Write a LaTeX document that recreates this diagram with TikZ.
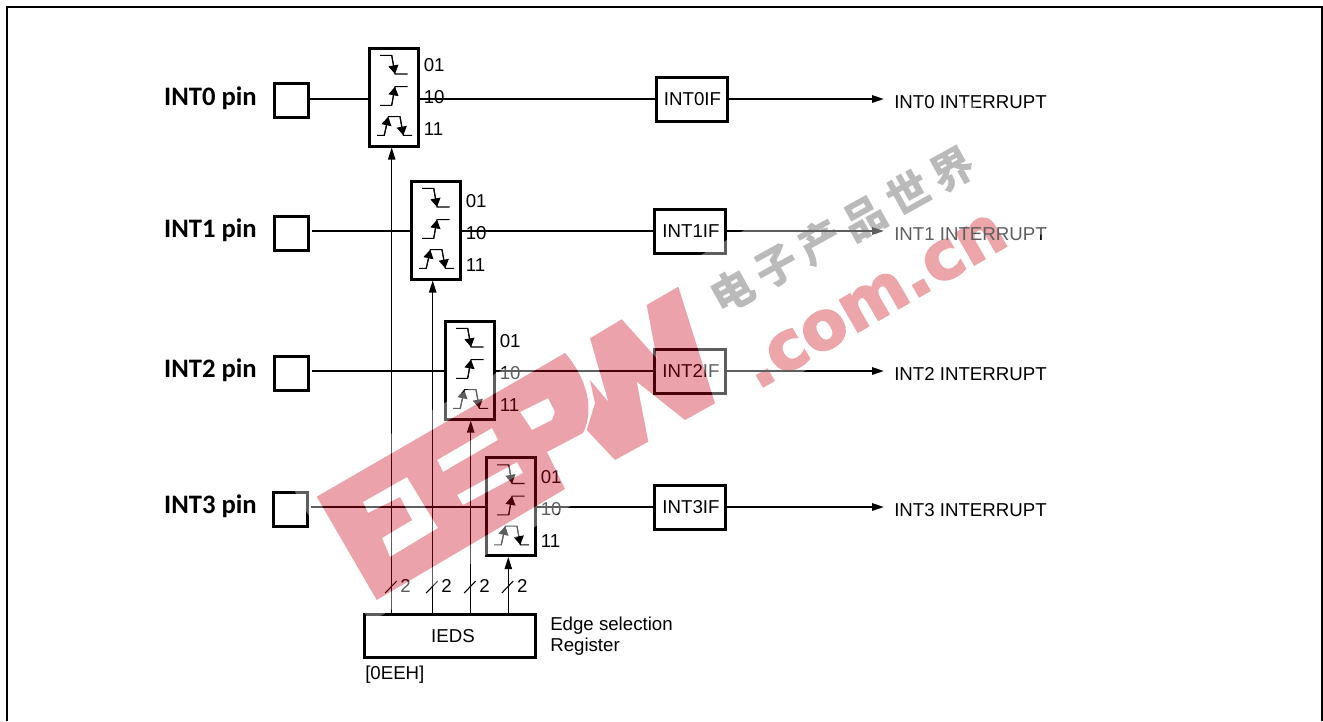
\documentclass[tikz,border=0pt]{standalone}
\usepackage{fontspec}
\setmainfont{Liberation Sans}
\newfontfamily\pinfont{Carlito}
\newfontfamily\markfont[BoldFont={DejaVu Sans Bold},BoldFeatures={FakeBold=3}]{DejaVu Sans}
\newfontfamily\cjk[LetterSpace=18]{Noto Sans CJK SC}
\usepackage{xcolor}
\usetikzlibrary{arrows.meta,positioning,calc}
\definecolor{markred}{RGB}{203,0,22}
\definecolor{markpale}{RGB}{225,114,120}
\definecolor{markgray}{RGB}{147,147,147}

% outline of the four big watermark letters
\newcommand{\eepwshape}{
    (316.7,496.7) -- (565,353) .. controls (582,372) and (597,405) .. (583,433)
    -- (547,452) -- (565,489) -- (376.7,600) -- cycle
    (520,412) -- (548,398) -- (555,412) -- (552,420) -- (532,430) -- cycle
    (437,460) -- (492,428) -- (498,440) -- (443,472) -- cycle
    (457,495) -- (517,462) -- (523,473) -- (463,505) -- cycle
    (363,502) -- (407,477) -- (438,528) -- (390,557) -- (382,538) -- (412,520) -- (400,497) -- (368,513) -- cycle
    (590,338.3) -- (621.7,319.3) -- (656.7,358.3) -- (646.7,305) -- (678.3,286.7) -- (715,403.3) -- (685,420)
    -- (636.7,381.7) -- (648.3,441.7) -- (615,460) -- (586.7,430) -- (595,403.3) -- (590,380) -- (608.3,401.7) -- cycle
}

\tikzset{
    edgeicon/.pic={
        \draw[iconline] (-14,-41.7) -- (-2.3,-41.7) -- (1,-23) -- (13.7,-23);
        \draw[iconline, icontip] (-2.3,-41.7) -- (1,-23);
        \draw[iconline] (-14,8.3) -- (-2.3,8.3) -- (1,-10.3) -- (13.7,-10.3);
        \draw[iconline, icontip] (-2.3,8.3) -- (1,-10.3);
        \draw[iconline] (-17,38.3) -- (-9.7,38.3) -- (-5.7,19.7) -- (6,19.7) -- (9.3,38.3) -- (18,38.3);
        \draw[iconline, icontip] (-9.7,38.3) -- (-5.7,19.7);
        \draw[iconline, icontip] (6,19.7) -- (9.3,38.3);
    }
}

\begin{document}
\begin{tikzpicture}[
    x=0.75pt, y=-0.75pt,
    every node/.style={font=\fontsize{14}{16}\selectfont, inner sep=0pt},
    pinbox/.style={draw, line width=2.25pt, minimum width=25.5pt, minimum height=25.5pt},
    selbox/.style={draw, line width=2.25pt, minimum width=36.75pt, minimum height=73.5pt},
    flagbox/.style={draw, line width=2.25pt, minimum width=53.25pt, minimum height=33pt},
    regbox/.style={draw, line width=2.25pt, minimum width=128.25pt, minimum height=32.25pt},
    pinlab/.style={font=\fontsize{20}{22}\selectfont\pinfont\bfseries, anchor=east},
    wire/.style={line width=1.5pt},
    thinwire/.style={line width=0.8pt},
    iconline/.style={line width=0.8pt},
    icontip/.style={-{Triangle[length=6.5pt,width=7.5pt]}},
    bigtip/.style={-{Triangle[length=9pt,width=5.5pt]}},
]
    \useasboundingbox (0,0) rectangle (1323,721);

    % Watermark texts, under the drawing
    \node[rotate=30, text=markpale, font=\fontsize{50}{52}\selectfont\markfont\bfseries] (markdot) at (875,301) {.com.cn};
    \node[rotate=29, text=markgray, font=\fontsize{32}{36}\selectfont\cjk\bfseries] (markcjk) at (842,230) {电子产品世界};

    % Frame, open at the bottom
    \draw[line width=1.5pt] (7,721) -- (7,7) -- (1322,7) -- (1322,721);

    % Register
    \node[regbox] (reg) at (450,636) {\hspace*{4.5pt}\raisebox{-0.75pt}{IEDS}};
    \node[anchor=west] (regname) at (550,625.5) {Edge selection};
    \node[anchor=west] (regname2) at (550,646.5) {Register};
    \node[anchor=west] (regaddr) at (365,674.5) {[0EEH]};

    % One row per pin: n / wire y / pin x / pin y / selector x / selector y / label y / flag x / text y / tap x / gap
    \foreach \n/\wy/\px/\py/\sx/\sy/\ly/\fx/\ty/\tx/\gap in {
        0/99/291.5/100.5/394/97/97/691.5/102/391.7/0pt,
        1/231/291/233/436/230/233/690/234/432.7/2pt,
        2/371/291/373/470/370/373/690/374/470.7/2pt,
        3/507/290/509/511/506.5/509/690/510/508.3/2pt%
    } {
        \node[pinlab] (name\n) at (257,\py-2.5) {INT\n\ pin};
        \node[pinbox] (pin\n) at (\px,\py) {};
        \node[selbox] (sel\n) at (\sx,\sy) {};
        \pic at (sel\n.center) {edgeicon};
        \node[flagbox] (flag\n) at (\fx,\wy) {\hspace*{1.5pt}INT\n IF};
        \node[anchor=west] (out\n) at (894,\ty) {INT\n\ INTERRUPT};

        % selector codes
        \node[anchor=west] (lo\n) at ($(sel\n.east |- 0,\ly)+(3.5,-32)$) {01};
        \node[anchor=west] (mid\n) at ($(sel\n.east |- 0,\ly)+(3.5,0)$) {10};
        \node[anchor=west] (hi\n) at ($(sel\n.east |- 0,\ly)+(3.5,32)$) {11};

        % signal path
        \draw[wire, shorten <=\gap] (pin\n.east |- flag\n) -- (flag\n -| sel\n.west);
        \draw[wire] (flag\n -| sel\n.east) -- (flag\n.west);
        \draw[wire, bigtip, shorten >=7.5pt] (flag\n.east) -- (flag\n -| out\n.west);

        % bus from the register
        \coordinate (tap\n) at (\tx,613);
        \draw[thinwire, bigtip] (tap\n) -- (tap\n |- sel\n.south);
        \draw[thinwire] ($(tap\n)+(-6.5,-20)$) -- ($(tap\n)+(5,-32)$);
        \node[anchor=west] (two\n) at ($(tap\n)+(8.5,-27.5)$) {2};
    }

    % Watermark: pale band that fades what lies under it, then the letters
    \fill[white, fill opacity=0.37, even odd rule]
        (294,490) -- (971,99) -- (1047,231) -- (370,622) -- cycle \eepwshape;
    \fill[markred, fill opacity=0.365, even odd rule] \eepwshape;
\end{tikzpicture}
\end{document}
